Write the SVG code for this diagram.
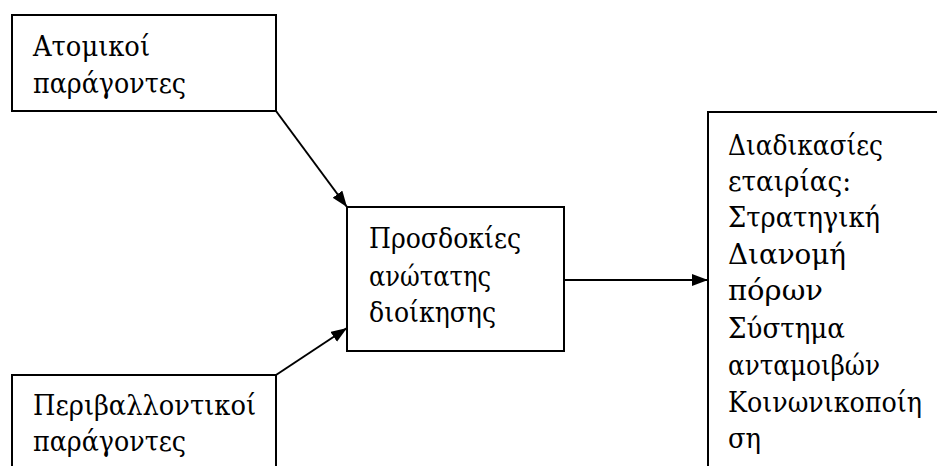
<svg xmlns="http://www.w3.org/2000/svg" width="937" height="466" viewBox="0 0 937 466">
<style>
.box{fill:#fff;stroke:#000;stroke-width:2}
.t{font-family:"DejaVu Serif","Liberation Serif",serif;font-size:28px;fill:#000}
.c{stroke:#000;stroke-width:2;fill:none}
</style>
<defs>
<marker id="ah" markerUnits="userSpaceOnUse" markerWidth="18" markerHeight="14" refX="16" refY="6" orient="auto">
<path d="M0,0 L16,6 L0,12 Z" fill="#000"/>
</marker>
</defs>
<rect width="937" height="466" fill="#fff"/>
<g id="n1">
<rect class="box" x="12" y="15" width="264" height="96"/>
<text class="t" x="33" y="56" textLength="117" lengthAdjust="spacingAndGlyphs">Ατομικοί</text>
<text class="t" x="33" y="93" textLength="153" lengthAdjust="spacingAndGlyphs">παράγοντες</text>
</g>
<g id="n2">
<rect class="box" x="12" y="375" width="264" height="100"/>
<text class="t" x="33" y="415" textLength="223" lengthAdjust="spacingAndGlyphs">Περιβαλλοντικοί</text>
<text class="t" x="33" y="451" textLength="153" lengthAdjust="spacingAndGlyphs">παράγοντες</text>
</g>
<g id="n3">
<rect class="box" x="347" y="207" width="217" height="144"/>
<text class="t" x="369" y="248" textLength="152" lengthAdjust="spacingAndGlyphs">Προσδοκίες</text>
<text class="t" x="369" y="286" textLength="122" lengthAdjust="spacingAndGlyphs">ανώτατης</text>
<text class="t" x="369" y="322" textLength="127" lengthAdjust="spacingAndGlyphs">διοίκησης</text>
</g>
<g id="n4">
<rect class="box" x="708" y="112" width="232" height="370"/>
<text class="t" x="728" y="155" textLength="155" lengthAdjust="spacingAndGlyphs">Διαδικασίες</text>
<text class="t" x="728" y="191" textLength="123" lengthAdjust="spacingAndGlyphs">εταιρίας:</text>
<text class="t" x="728" y="227" textLength="152" lengthAdjust="spacingAndGlyphs">Στρατηγική</text>
<text class="t" x="728" y="264" textLength="118" lengthAdjust="spacingAndGlyphs">Διανομή</text>
<text class="t" x="728" y="300" textLength="95" lengthAdjust="spacingAndGlyphs">πόρων</text>
<text class="t" x="728" y="338" textLength="117" lengthAdjust="spacingAndGlyphs">Σύστημα</text>
<text class="t" x="728" y="375" textLength="152" lengthAdjust="spacingAndGlyphs">ανταμοιβών</text>
<text class="t" x="728" y="412" textLength="194" lengthAdjust="spacingAndGlyphs">Κοινωνικοποίη</text>
<text class="t" x="728" y="448" textLength="33" lengthAdjust="spacingAndGlyphs">ση</text>
</g>
<g id="connectors">
<line class="c" x1="276" y1="111" x2="347" y2="207" marker-end="url(#ah)"/>
<line class="c" x1="276" y1="375" x2="347" y2="328" marker-end="url(#ah)"/>
<line class="c" x1="564" y1="280" x2="708" y2="280" marker-end="url(#ah)"/>
</g>
</svg>
